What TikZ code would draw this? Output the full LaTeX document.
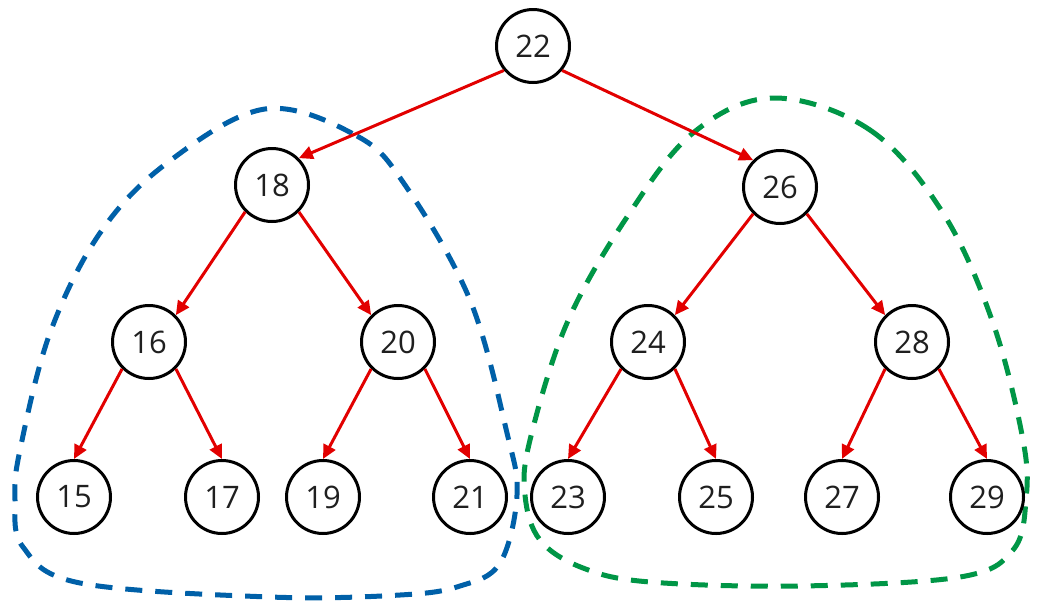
\documentclass[tikz,border=0pt]{standalone}
\usepackage{fontspec}
\setmainfont{Open Sans}
\usetikzlibrary{arrows.meta}
\definecolor{edgered}{RGB}{226,0,0}
\definecolor{grpblue}{RGB}{0,96,168}
\definecolor{grpgreen}{RGB}{0,150,70}
\tikzset{
  vertex/.style={circle, draw=black, line width=3pt, minimum size=73pt, inner sep=0pt,
    fill=white, text=black!88, font=\fontsize{31}{37}\selectfont},
  edge/.style={draw=edgered, line width=3pt, -{Triangle[length=14pt,width=13pt]}},
  group/.style={line width=5pt, dash pattern=on 17pt off 13pt}
}
\begin{document}
\begin{tikzpicture}[x=1pt,y=-1pt]
\useasboundingbox (0,0) rectangle (1057,611);
% groups
\draw[group, draw=grpblue] plot[smooth cycle, tension=0.6] coordinates {
  (265,109) (357,136) (405,185) (470,300) (507,433) (517,495) (500,563) (460,586) (400,595)
  (270,597) (80,583) (23,547) (15,500) (20,450) (50,333) (100,233) (167,163)};
\draw[group, draw=grpgreen] plot[smooth cycle, tension=0.6] coordinates {
  (773,98) (870,130) (943,213) (993,323) (1023,440) (1026,500) (1013,550) (960,577)
  (800,586) (650,582) (583,568) (540,540) (525,495) (530,440) (567,323) (627,217) (693,133)};
% nodes
\node[vertex] (n22) at (533,46) {22};
\node[vertex] (n18) at (272,185) {18};
\node[vertex] (n26) at (780,187) {26};
\node[vertex] (n16) at (149,342) {16};
\node[vertex] (n20) at (398,342) {20};
\node[vertex] (n24) at (648,342) {24};
\node[vertex] (n28) at (912,342) {28};
\node[vertex] (n15) at (74,497) {15};
\node[vertex] (n17) at (222,497) {17};
\node[vertex] (n19) at (323,497) {19};
\node[vertex] (n21) at (470,497) {21};
\node[vertex] (n23) at (568,497) {23};
\node[vertex] (n25) at (716,497) {25};
\node[vertex] (n27) at (842,497) {27};
\node[vertex] (n29) at (987,497) {29};
% edges
\draw[edge] (n22.220) -- (n18.45);
\draw[edge] (n22.320) -- (n26.135);
\draw[edge] (n18.225) -- (n16.45);
\draw[edge] (n18.315) -- (n20.135);
\draw[edge] (n26.225) -- (n24.45);
\draw[edge] (n26.315) -- (n28.135);
\draw[edge] (n16.225) -- (n15.north);
\draw[edge] (n16.315) -- (n17.north);
\draw[edge] (n20.225) -- (n19.north);
\draw[edge] (n20.315) -- (n21.north);
\draw[edge] (n24.225) -- (n23.north);
\draw[edge] (n24.315) -- (n25.north);
\draw[edge] (n28.225) -- (n27.north);
\draw[edge] (n28.315) -- (n29.north);
\end{tikzpicture}
\end{document}
